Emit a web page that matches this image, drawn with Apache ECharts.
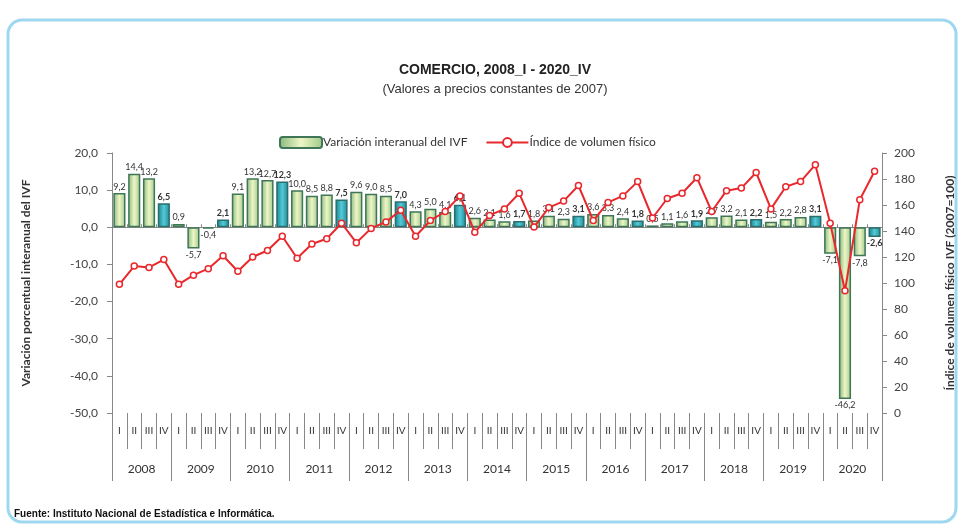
<!DOCTYPE html>
<html>
<head>
<meta charset="utf-8">
<script src="https://cdn.jsdelivr.net/npm/echarts@6/dist/echarts.min.js"></script>
<style>
  html, body { margin: 0; padding: 0; background: #fff; }
  #chart { width: 964px; height: 528px; }
</style>
</head>
<body>
<div id="chart"></div>
<script>
// datos
var years = ["2008","2009","2010","2011","2012","2013","2014","2015","2016","2017","2018","2019","2020"];
var quarters = ["I","II","III","IV"];
// variación interanual del IVF (%)
var variacion = [
  9.2, 14.4, 13.2, 6.5,
  0.9, -5.7, -0.4, 2.1,
  9.1, 13.2, 12.7, 12.3,
  10.0, 8.5, 8.8, 7.5,
  9.6, 9.0, 8.5, 7.0,
  4.3, 5.0, 4.1, 6.1,
  2.6, 2.1, 1.6, 1.7,
  1.8, 3.1, 2.3, 3.1,
  3.6, 3.3, 2.4, 1.8,
  0.5, 1.1, 1.6, 1.9,
  2.7, 3.2, 2.1, 2.2,
  1.5, 2.2, 2.8, 3.1,
  -7.1, -46.2, -7.8, -2.6
];
// índice de volumen físico (2007=100)
var indice = [
  99, 113, 112, 118,
  99, 106, 111, 121,
  109, 120, 125, 136,
  119, 130, 134, 146,
  131, 142, 147, 156,
  136, 148, 155, 167,
  139, 152, 157, 169,
  143, 158, 163, 175,
  148, 162, 167, 178,
  150, 165, 169, 181,
  155, 171, 173, 185,
  157, 174, 178, 191,
  146, 94, 164, 186
];

var quarterLabels = [];
years.forEach(function (y) {
  quarters.forEach(function (q) { quarterLabels.push(q); });
});

function fmt(v) { return v.toFixed(1).replace(".", ","); }

var lightBar = {
  type: "linear", x: 0, y: 0, x2: 1, y2: 0,
  colorStops: [
    { offset: 0, color: "#86b97c" },
    { offset: 0.5, color: "#eef5c6" },
    { offset: 1, color: "#9ec989" }
  ]
};
var tealBar = {
  type: "linear", x: 0, y: 0, x2: 1, y2: 0,
  colorStops: [
    { offset: 0, color: "#17808c" },
    { offset: 0.5, color: "#55c9d8" },
    { offset: 1, color: "#1a8a96" }
  ]
};

var barData = variacion.map(function (v, i) {
  var q4 = i % 4 === 3;
  return {
    value: v,
    itemStyle: {
      color: q4 ? tealBar : lightBar,
      borderColor: q4 ? "#2b6f6c" : "#3f7658",
      borderWidth: 1.5
    },
    label: {
      position: v < 0 ? "bottom" : "top",
      fontWeight: q4 ? "bold" : "normal"
    }
  };
});

var chart = echarts.init(document.getElementById("chart"));
var option = {
  animation: false,
  title: {
    text: "COMERCIO, 2008_I - 2020_IV",
    subtext: "(Valores a precios constantes de 2007)",
    left: 490,
    textAlign: "center",
    top: 58,
    itemGap: 6,
    textStyle: { fontFamily: "Liberation Sans", fontSize: 14, fontWeight: "bold", color: "#222" },
    subtextStyle: { fontFamily: "Liberation Sans", fontSize: 13, color: "#333" }
  },
  legend: {
    left: 274,
    top: 131,
    itemGap: 18,
    itemWidth: 42,
    itemHeight: 11,
    textStyle: { fontFamily: "Lato", fontSize: 12, color: "#333", padding: [0, 0, 0, -4] },
    data: ["Variación interanual del IVF", "Índice de volumen físico"]
  },
  graphic: [
    {
      type: "rect",
      shape: { x: 8, y: 20, width: 948, height: 502, r: 14 },
      style: { fill: "none", stroke: "#9ed8f0", lineWidth: 3 },
      silent: true
    },
    {
      type: "text",
      left: 14,
      top: 509,
      style: {
        text: "Fuente: Instituto Nacional de Estadística e Informática.",
        fontFamily: "Liberation Sans",
        fontSize: 10,
        fontWeight: "bold",
        fill: "#111"
      }
    }
  ],
  grid: { left: 112, right: 80, top: 153, bottom: 115 },
  xAxis: [
    {
      type: "category",
      data: quarterLabels,
      position: "bottom",
      axisLine: { onZero: false, show: false },
      axisTick: { show: true, interval: 0, length: 36, lineStyle: { color: "#888" } },
      axisLabel: { interval: 0, margin: 13, fontFamily: "Lato", fontSize: 10, color: "#333" }
    },
    {
      type: "category",
      data: years,
      position: "bottom",
      axisLine: { onZero: false, show: false },
      axisTick: { show: true, interval: 0, length: 68, lineStyle: { color: "#888" } },
      axisLabel: { interval: 0, margin: 50, fontFamily: "Lato", fontSize: 12, color: "#333" }
    },
    {
      type: "category",
      data: quarterLabels,
      axisLine: { onZero: true, lineStyle: { color: "#888" } },
      axisTick: { show: true, interval: 0, length: 3, lineStyle: { color: "#888" } },
      axisLabel: { show: false }
    }
  ],
  yAxis: [
    {
      type: "value",
      min: -50,
      max: 20,
      interval: 10,
      name: "Variación porcentual interanual del IVF",
      nameLocation: "middle",
      nameGap: 80,
      nameTextStyle: { fontFamily: "Lato", fontSize: 12, fontWeight: "bold", color: "#333" },
      axisLine: { show: true, lineStyle: { color: "#888" } },
      axisTick: { show: true, length: 5, lineStyle: { color: "#888" } },
      splitLine: { show: false },
      axisLabel: {
        margin: 14,
        fontFamily: "Lato",
        fontSize: 12,
        color: "#444",
        formatter: function (v) { return fmt(v); }
      }
    },
    {
      type: "value",
      min: 0,
      max: 200,
      interval: 20,
      position: "right",
      name: "Índice de volumen físico IVF (2007=100)",
      nameLocation: "middle",
      nameRotate: 90,
      nameGap: 62,
      nameTextStyle: { fontFamily: "Lato", fontSize: 12, fontWeight: "bold", color: "#333" },
      axisLine: { show: true, lineStyle: { color: "#888" } },
      axisTick: { show: true, length: 5, lineStyle: { color: "#888" } },
      splitLine: { show: false },
      axisLabel: { margin: 12, fontFamily: "Lato", fontSize: 12, color: "#444" }
    }
  ],
  series: [
    {
      name: "Variación interanual del IVF",
      type: "bar",
      xAxisIndex: 0,
      yAxisIndex: 0,
      data: barData,
      barCategoryGap: "18%",
      itemStyle: { color: lightBar, borderColor: "#3f7658", borderWidth: 1.5 },
      label: {
        show: true,
        distance: 2,
        fontFamily: "Lato",
        fontSize: 9,
        color: "#333",
        formatter: function (p) { return fmt(p.value); }
      }
    },
    {
      name: "Índice de volumen físico",
      type: "line",
      xAxisIndex: 0,
      yAxisIndex: 1,
      data: indice,
      symbol: "circle",
      symbolSize: 6,
      lineStyle: { color: "#e8282c", width: 2 },
      itemStyle: { color: "#fff", borderColor: "#e8282c", borderWidth: 1.5 },
      z: 5
    }
  ]
};
chart.setOption(option);
</script>
</body>
</html>
